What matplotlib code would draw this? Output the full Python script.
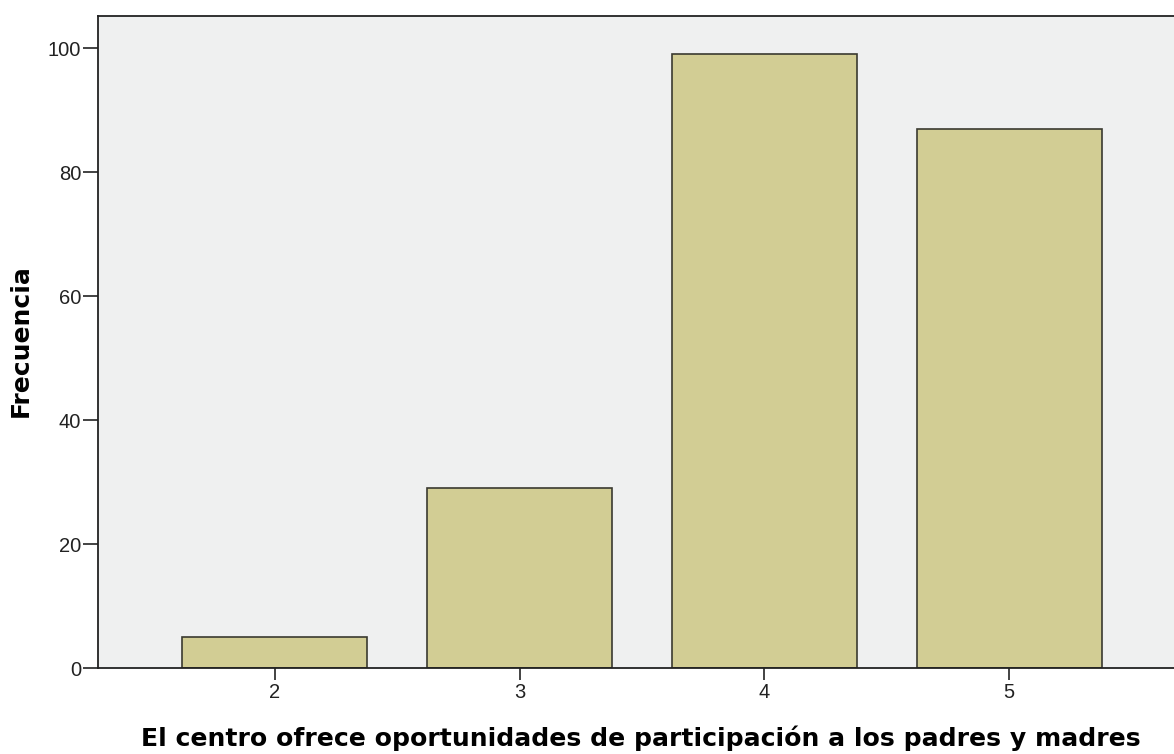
import matplotlib.pyplot as plt

# Frequencies per response value
categories = [2, 3, 4, 5]
frequencies = [5, 29, 99, 87]
yticks = [0, 20, 40, 60, 80, 100]

plt.rcParams['font.family'] = ['Liberation Sans', 'DejaVu Sans']

W, H = 1174, 754
fig = plt.figure(figsize=(W / 100, H / 100), dpi=100)
ax = fig.add_axes([98 / W, (H - 668) / H, (W - 98) / W, (668 - 16) / H])

ax.set_facecolor('#eff0f0')
ax.bar(categories, frequencies, width=0.756, color='#d2cd94',
       edgecolor='#3a3a30', linewidth=1.2, zorder=2)

ax.set_xlim(1.278, 5.673)
ax.set_ylim(0, 105.2)
ax.set_xticks(categories)
ax.set_yticks(yticks)
ax.tick_params(axis='both', direction='out', width=1.2, labelsize=14.5,
               colors='#222222')
ax.tick_params(axis='y', length=11, pad=1)
ax.tick_params(axis='x', length=8.5, pad=2.5)

for side in ['left', 'bottom', 'top']:
    ax.spines[side].set_linewidth(1.3)
    ax.spines[side].set_color('#222222')
ax.spines['right'].set_visible(False)

fig.text(641 / W, (H - 746) / H,
         "El centro ofrece oportunidades de participación a los padres y madres",
         family='DejaVu Sans', fontsize=18.1, fontweight='bold',
         ha='center', va='baseline')
fig.text(33 / W, (H - 341) / H, "Frecuencia", family='DejaVu Sans',
         fontsize=18, fontweight='bold', rotation=90,
         ha='right', va='center')

fig.savefig("out.png", dpi=100)
